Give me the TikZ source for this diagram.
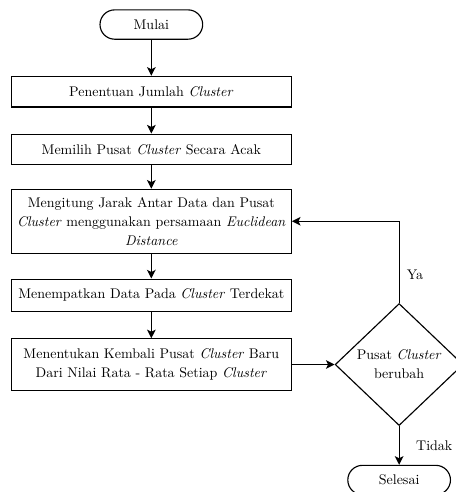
\documentclass[tikz,border=0pt]{standalone}
\usetikzlibrary{arrows.meta,positioning,shapes.geometric}

\begin{document}
\begin{tikzpicture}[
  every node/.style={
    font=\fontsize{10.5}{14.2}\selectfont,
    text=black
  },
  terminal/.style={
    draw=black,
    line width=0.85pt,
    rectangle,
    rounded corners=11pt,
    align=center,
    minimum width=77pt,
    minimum height=22pt
  },
  block/.style={
    draw=black,
    line width=0.85pt,
    rectangle,
    fill=white,
    align=center,
    inner xsep=2pt,
    inner ysep=2pt,
    minimum width=210pt,
    minimum height=23pt
  },
  decision/.style={
    draw=black,
    line width=0.85pt,
    diamond,
    align=center,
    inner sep=0pt,
    minimum width=96pt,
    minimum height=91.5pt
  },
  arrow/.style={
    -{Stealth[length=6.5pt,width=6.5pt,inset=1.6pt]},
    draw=black,
    line width=0.85pt
  }
]
  \useasboundingbox (0,0) rectangle (342pt,-369pt);

  \node[terminal] (mulai) at (113.5pt,-18.4pt) {Mulai};
  \node[block, below=27pt of mulai] (jumlah)
    {Penentuan Jumlah \textit{Cluster}};
  \node[block, below=19.5pt of jumlah] (pusat)
    {Memilih Pusat \textit{Cluster} Secara Acak};
  \node[block, below=17.5pt of pusat, minimum height=48pt] (jarak)
    {Mengitung Jarak Antar Data dan Pusat\\
     \textit{Cluster} menggunakan persamaan \textit{Euclidean}\\
     \textit{Distance}};
  \node[block, below=18.5pt of jarak, minimum height=24pt] (tempat)
    {Menempatkan Data Pada \textit{Cluster} Terdekat};
  \node[block, below=20pt of tempat, minimum height=38.5pt] (baru)
    {Menentukan Kembali Pusat \textit{Cluster} Baru\\
     Dari Nilai Rata - Rata Setiap \textit{Cluster}};

  \node[decision, right=32pt of baru] (ubah)
    {Pusat \textit{Cluster}\\berubah};
  \node[terminal, below=29pt of ubah] (selesai) {Selesai};

  \draw[arrow] (mulai) -- (jumlah);
  \draw[arrow] (jumlah) -- (pusat);
  \draw[arrow] (pusat) -- (jarak);
  \draw[arrow] (jarak) -- (tempat);
  \draw[arrow] (tempat) -- (baru);
  \draw[arrow] (baru) -- (ubah);
  \draw[arrow] (ubah.north) |- node[pos=0.17, right=2pt] {Ya} (jarak.east);
  \draw[arrow] (ubah) -- node[right=9pt] {Tidak} (selesai);
\end{tikzpicture}
\end{document}
